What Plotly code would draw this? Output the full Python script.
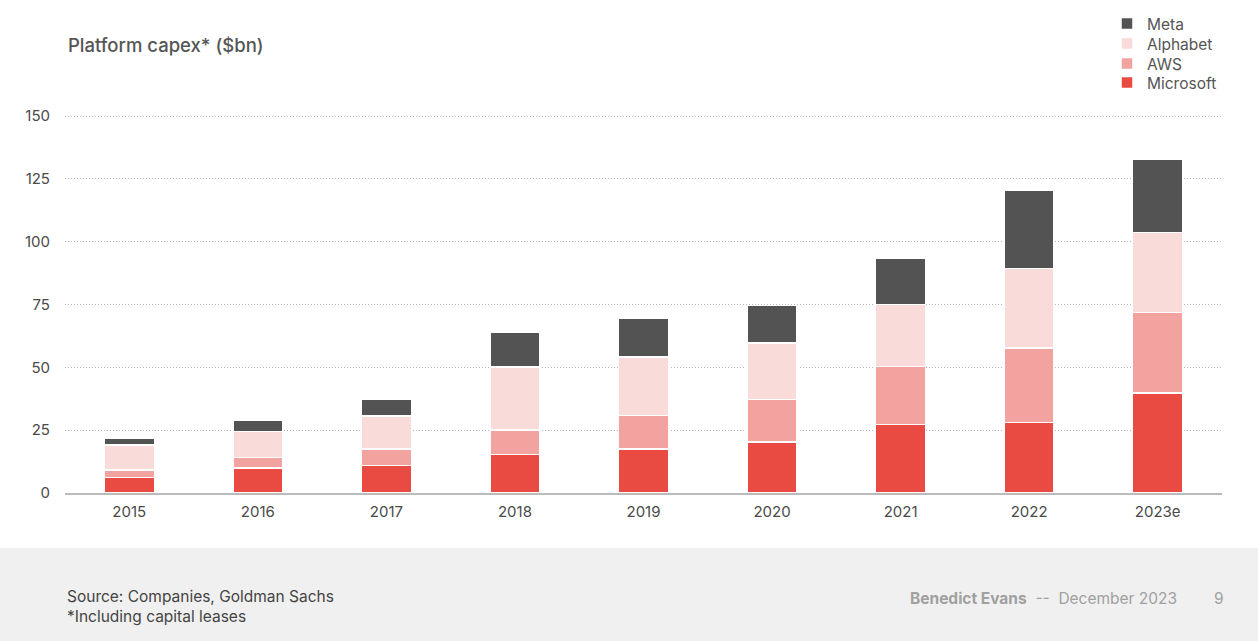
import plotly.graph_objects as go

years = ["2015", "2016", "2017", "2018", "2019", "2020", "2021", "2022", "2023e"]
microsoft = [6.2, 9.9, 11.0, 15.3, 17.5, 20.2, 27.2, 28.1, 39.7]
aws = [3.0, 4.3, 6.5, 9.8, 13.4, 17.1, 23.2, 29.5, 32.2]
alphabet = [10.0, 10.2, 13.1, 25.0, 23.2, 22.3, 24.6, 31.8, 31.8]
meta = [2.5, 4.6, 6.8, 13.9, 15.3, 15.1, 18.5, 31.0, 29.2]
y_ticks = [0, 25, 50, 75, 100, 125, 150]

series = [
    ("Microsoft", microsoft, "#E94A42"),
    ("AWS", aws, "#F3A39F"),
    ("Alphabet", alphabet, "#F9DBD9"),
    ("Meta", meta, "#535353"),
]
legend_ids = ["legend4", "legend3", "legend2", "legend"]
legend_centers_px = [83, 64, 44, 24]

FONT = "Inter, Roboto, sans-serif"
PH = 493 - 111   # plot height in px
PW = 1222 - 65   # plot width in px

def px_y(py):
    return (493 - py) / PH

def px_x(px):
    return (px - 65) / PW

fig = go.Figure()
for (name, vals, col), lid in zip(series, legend_ids):
    fig.add_trace(go.Bar(
        x=years, y=vals, name=name, legend=lid,
        marker=dict(color=col, line=dict(color="white", width=1.5)),
        hoverinfo="x+y+name",
    ))

legend_style = dict(
    xanchor="left", yanchor="middle", x=px_x(1107),
    font=dict(size=15.5, color="#555"), itemwidth=30,
    bgcolor="rgba(0,0,0,0)", borderwidth=0,
)
legends = {}
for lid, cy in zip(legend_ids, legend_centers_px):
    legends[lid] = dict(legend_style, y=px_y(cy))

fig.update_layout(
    width=1258, height=641,
    barmode="stack", bargap=0.61,
    plot_bgcolor="white", paper_bgcolor="white",
    margin=dict(l=65, r=36, t=111, b=148, autoexpand=False),
    font=dict(family=FONT, color="#444"),
    showlegend=True,
    xaxis=dict(
        tickfont=dict(size=15, color="#4a4a4a"), showgrid=False,
        showline=True, linecolor="#bbbbbb", linewidth=1.5,
        ticks="", ticklen=0, ticklabelstandoff=4,
    ),
    yaxis=dict(
        range=[0, 152], tickvals=y_ticks,
        tickfont=dict(size=15, color="#4a4a4a"),
        showgrid=True, gridcolor="#b8b8b8", griddash="1px,2px", gridwidth=1,
        zeroline=False, showline=False, ticks="", ticklabelstandoff=14,
    ),
    shapes=[
        dict(type="rect", xref="paper", yref="paper", x0=-0.2, x1=1.2,
             y0=px_y(700), y1=px_y(548),
             fillcolor="#f0f0f0", line=dict(width=0), layer="below"),
    ],
    annotations=[
        dict(text="Platform capex* ($bn)", xref="paper", yref="paper",
             x=px_x(66), y=px_y(45), xanchor="left", yanchor="middle",
             showarrow=False, font=dict(size=18.5, color="#555", family=FONT, weight=500)),
        dict(text="Source: Companies, Goldman Sachs<br>*Including capital leases",
             xref="paper", yref="paper", x=px_x(65), y=px_y(606.5), xanchor="left", yanchor="middle",
             align="left", showarrow=False, font=dict(size=15.5, color="#444", family=FONT)),
        dict(text="<b>Benedict Evans</b>  --  December 2023",
             xref="paper", yref="paper", x=px_x(1179), y=px_y(598), xanchor="right", yanchor="middle",
             showarrow=False, font=dict(size=15.5, color="#a0a0a0", family=FONT)),
        dict(text="9", xref="paper", yref="paper", x=px_x(1226), y=px_y(598),
             xanchor="right", yanchor="middle",
             showarrow=False, font=dict(size=15.5, color="#a0a0a0", family=FONT)),
    ],
    **legends,
)

fig.write_html("out.html", config={"displayModeBar": False},
               post_script="document.body.style.margin='0';")
